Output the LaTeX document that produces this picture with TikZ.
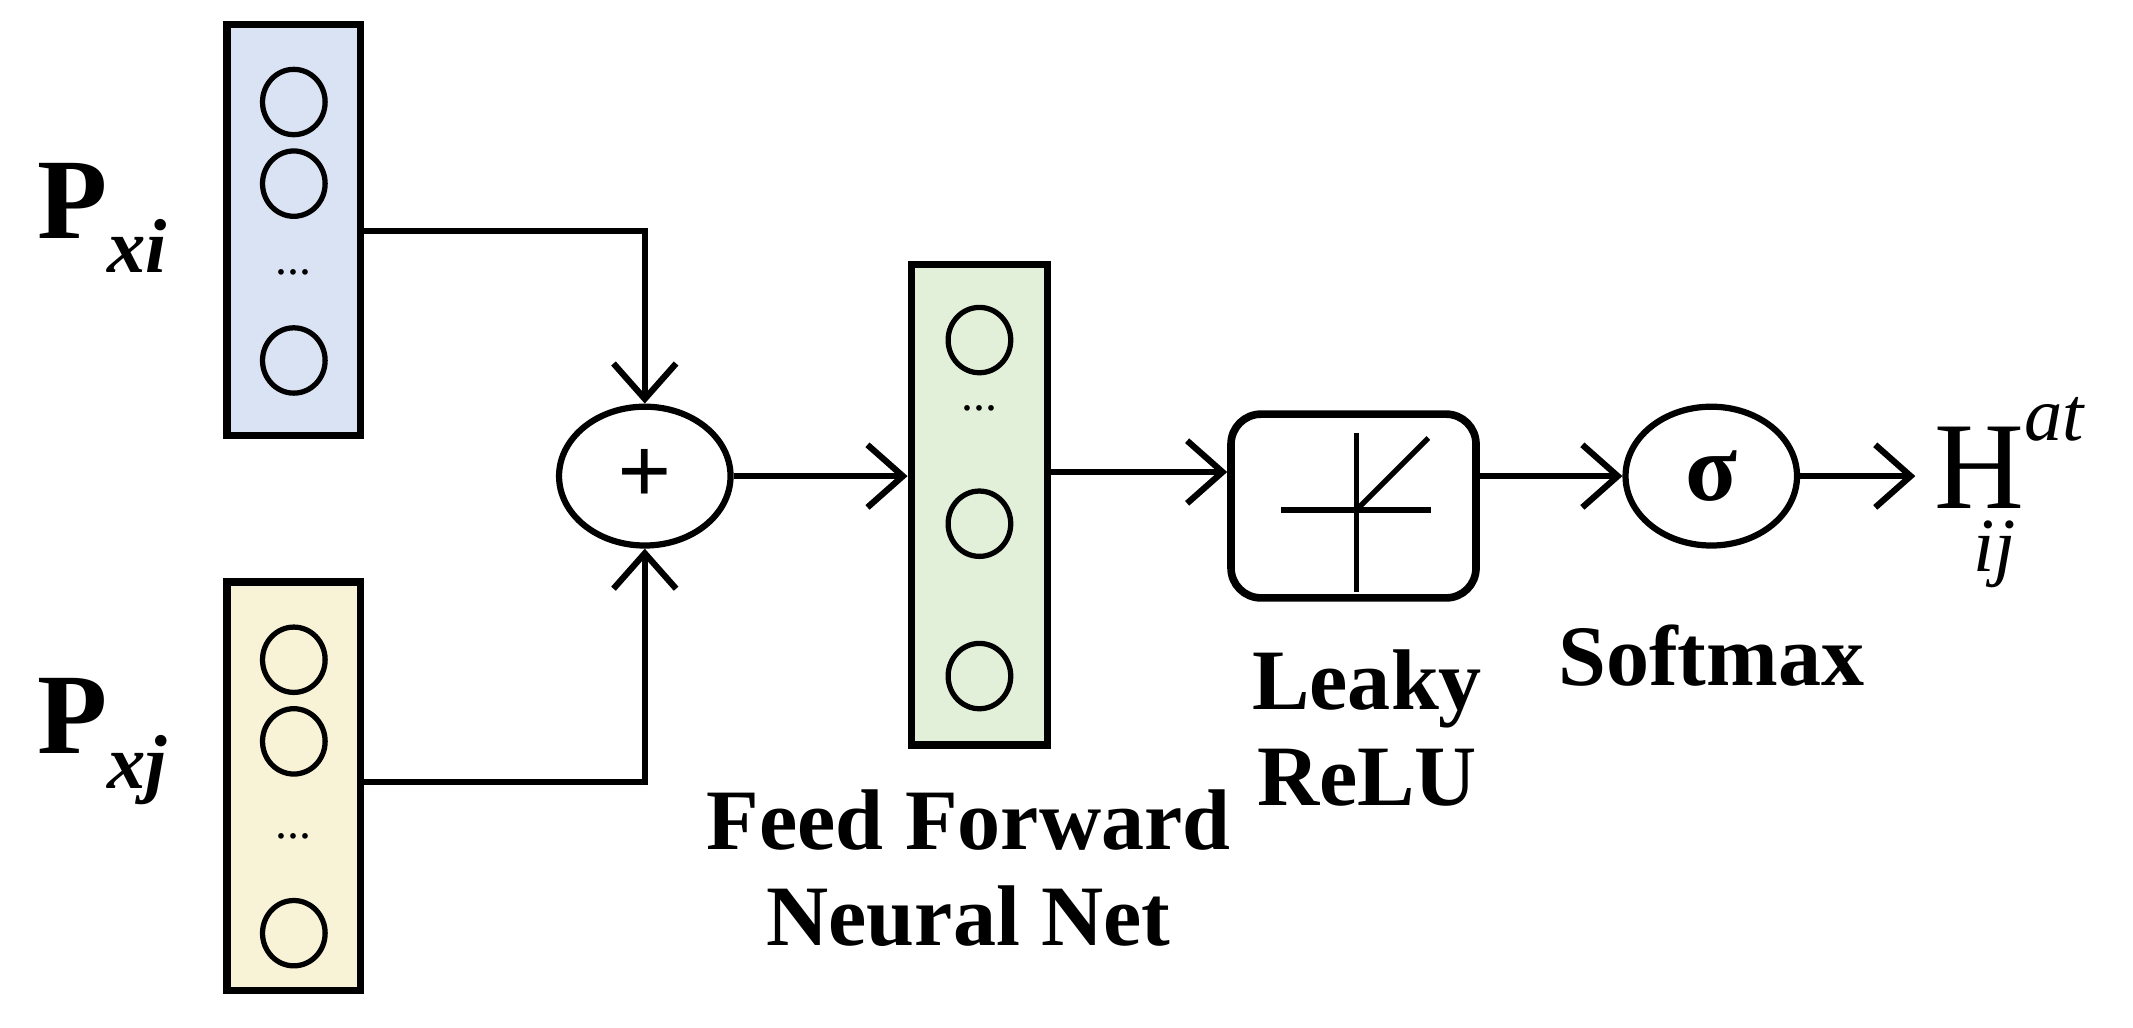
\documentclass[tikz,border=0pt]{standalone}
\usepackage{amsmath}
\usepackage{fontspec}
\setmainfont{Liberation Serif}
\usetikzlibrary{arrows.meta,shapes.geometric}
\definecolor{cblue}{HTML}{DAE3F3}
\definecolor{cyel}{HTML}{F8F3D6}
\definecolor{cgreen}{HTML}{E2F0D9}
\begin{document}
\begin{tikzpicture}[x=0.01cm,y=-0.01cm,line width=1.3pt,
  arr/.style={-{Straight Barb[length=2.6mm,width=4.6mm,line width=1.3pt]}},
  neu/.style={draw,ellipse,minimum width=0.46cm,minimum height=0.48cm,inner sep=0pt,line width=1.1pt},
  vec/.style={draw,line width=1.6pt},
  lab/.style={font=\fontsize{18}{20}\selectfont\bfseries,align=center},
  op/.style={draw,ellipse,minimum width=1.26cm,minimum height=1.02cm,inner sep=0pt}]
\useasboundingbox (0,0) rectangle (1568,755);
% input vectors
\node[vec,fill=cblue,minimum width=0.98cm,minimum height=3.02cm,inner sep=0pt] (bi) at (216,169) {};
\node[neu] (i1) at (216,75) {};
\node[neu] (i2) at (216,135) {};
\node (i3) at (216,200) {...};
\node[neu] (i4) at (216,265) {};
\node[vec,fill=cyel,minimum width=0.98cm,minimum height=3.0cm,inner sep=0pt] (bj) at (216,578) {};
\node[neu] (j1) at (216,485) {};
\node[neu] (j2) at (216,545) {};
\node (j3) at (216,615) {...};
\node[neu] (j4) at (216,686) {};
\node[font=\fontsize{24}{26}\selectfont\bfseries] (pxi) at (75,160) {P\raisebox{-0.3em}{\fontsize{16}{18}\selectfont\textit{xi}}};
\node[font=\fontsize{24}{26}\selectfont\bfseries] (pxj) at (75,545) {P\raisebox{-0.3em}{\fontsize{16}{18}\selectfont\textit{xj}}};
% plus
\node[op,font=\fontsize{20}{22}\selectfont\bfseries] (plus) at (474,350) {+};
\coordinate (ci) at (474,170);
\coordinate (cj) at (474,575);
\draw[arr] (bi.east |- ci) -- (ci) -- (plus.north);
\draw[arr] (bj.east |- cj) -- (cj) -- (plus.south);
% FFNN
\node[vec,fill=cgreen,minimum width=1.0cm,minimum height=3.53cm,inner sep=0pt] (ff) at (720,371) {};
\node[neu] (f1) at (720,250) {};
\node (f2) at (720,300) {...};
\node[neu] (f3) at (720,385) {};
\node[neu] (f4) at (720,497) {};
\draw[arr] (plus.east) -- (ff.west |- plus.east);
\node[lab] (fflab) at (712,638) {Feed Forward\\Neural Net};
% Leaky ReLU
\node[draw,rounded corners=0.22cm,minimum width=1.8cm,minimum height=1.35cm,line width=1.6pt] (relu) at (995,372) {};
\coordinate (r0) at (997,375);
\draw[line width=1.1pt] (942,375) -- (1052,375);
\draw[line width=1.1pt] (997,318) -- (997,435);
\draw[line width=1.1pt] (r0) -- (1050,322);
\coordinate (fo) at (770,347);
\draw[arr] (ff.east |- fo) -- (relu.west |- fo);
\node[lab] (rlab) at (1005,535) {Leaky\\ReLU};
% softmax
\node[op,font=\fontsize{20}{22}\selectfont\bfseries] (sig) at (1258,350) {σ};
\draw[arr] (relu.east |- sig.west) -- (sig.west);
\node[lab] (slab) at (1258,482) {Softmax};
\node[font=\fontsize{26}{28}\selectfont,anchor=west] (h) at (1408,362) {H\raisebox{0.55em}{\fontsize{16}{18}\selectfont\textit{at}}\hspace{-0.9em}\raisebox{-0.5em}{\fontsize{16}{18}\selectfont\textit{ij}}};
\draw[arr] (sig.east) -- (h.west |- sig.east);
\end{tikzpicture}
\end{document}
